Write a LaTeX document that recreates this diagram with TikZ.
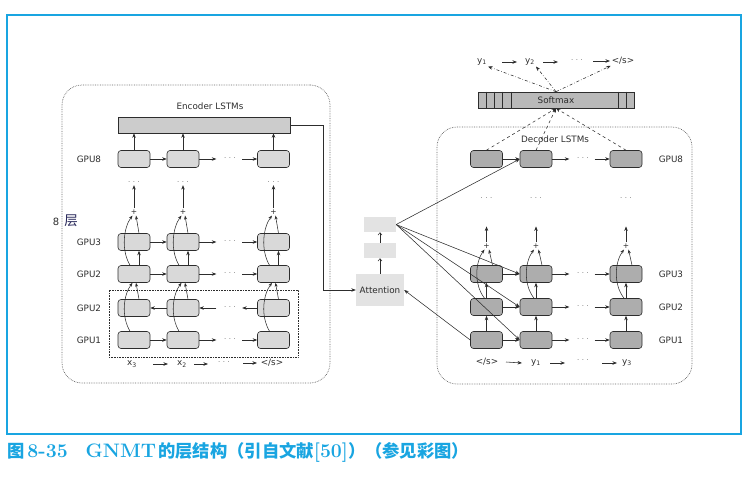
\documentclass[tikz,border=0pt]{standalone}
\usepackage{fontspec}
\newfontfamily\dvs{DejaVu Sans}
\newfontfamily\cjk{Noto Sans CJK SC}
\usetikzlibrary{arrows.meta,calc}
\definecolor{capblue}{RGB}{25,165,225}
\definecolor{ink}{RGB}{45,45,45}
\newcommand{\lmb}[1]{{\normalfont\bfseries\fontsize{19.5}{20}\selectfont #1}}
\begin{document}
\begin{tikzpicture}[x=1pt,y=-1pt,
  encbox/.style={draw=ink, line width=0.6pt, fill=gray!30, rounded corners=3pt, minimum width=32pt, minimum height=17pt, inner sep=0pt},
  decbox/.style={encbox, fill=gray!64},
  lbl/.style={font=\dvs\fontsize{8.8}{10}\selectfont, text=ink, inner sep=1pt},
  dts/.style={font=\dvs\fontsize{7}{8}\selectfont, text=gray!85!black, inner sep=0.5pt},
  pls/.style={font=\dvs\fontsize{7.5}{8}\selectfont, text=ink, inner sep=1pt},
  arr/.style={draw=ink, line width=0.55pt, -{Stealth[length=4.5pt,width=3.5pt]}},
  cur/.style={draw=ink, line width=0.55pt, -{Stealth[length=4pt,width=3pt]}},
  sarr/.style={draw=ink, line width=0.5pt, -{Straight Barb[length=2.5pt,width=4pt]}},
  frame/.style={draw=gray!80!black, line width=0.7pt, densely dotted, rounded corners=20pt, inner sep=0pt},
  graybox/.style={fill=gray!22, inner sep=0pt}]
\useasboundingbox (0,0) rectangle (752,477);
\node[draw=capblue, line width=1.3pt, minimum width=734pt, minimum height=419pt, inner sep=0pt] (border) at (374,224.5) {};

% caption
\node[anchor=west, text=capblue, inner sep=0pt] (caption) at (7,452)
 {\cjk\bfseries\fontsize{17.3}{18}\selectfont 图\hspace{3pt}\lmb{8-35}\hspace{18pt}\lmb{GNMT}\hspace{2pt}的层结构（引自文献\lmb{[50]}）（参见彩图）};

% ---------------- encoder ----------------
\node[frame, minimum width=268pt, minimum height=298pt] (encfr) at (196,234) {};
\node[draw=ink, line width=0.6pt, densely dotted, minimum width=189pt, minimum height=67pt, inner sep=0pt] (inner) at (203.5,323.5) {};
\node[lbl] (enclbl) at (210,106) {Encoder LSTMs};
\node[draw=ink, line width=0.6pt, fill=gray!40, minimum width=172pt, minimum height=16pt, inner sep=0pt] (ebar) at (204,125) {};

\node[lbl] (g8) at (89,159) {GPU8};
\node[lbl] (g3) at (89,242) {GPU3};
\node[lbl] (g2u) at (89,274) {GPU2};
\node[lbl] (g2b) at (89,308) {GPU2};
\node[lbl] (g1) at (89,340) {GPU1};
\node[inner sep=0pt, text=ink] (eight) at (56,222) {\dvs\fontsize{10}{11}\selectfont 8};
\node[inner sep=0pt, text=ink!80!blue] (ceng) at (71,221) {\cjk\fontsize{13.5}{14}\selectfont 层};

\foreach \c/\x in {1/134,2/183,3/273.5} {
  \node[encbox] (e8\c) at (\x,159) {};
  \node[encbox] (e3\c) at (\x,242) {};
  \node[encbox] (eu\c) at (\x,274) {};
  \node[encbox] (eb\c) at (\x,308) {};
  \node[encbox] (e1\c) at (\x,340) {};
  \node[dts] (ed\c) at (\x,183) {·\hspace{2.5pt}·\hspace{2.5pt}·};
  \node[pls] (ep\c) at (\x,212) {+};
  \draw[arr] (e8\c.north) -- (e8\c.north |- ebar.south);
  \draw[arr] (ep\c.north) -- (ed\c.south);
  \draw[arr] ($(eu\c.north)+(5,0)$) -- ($(e3\c.south)+(5,0)$);
  \draw[cur] ($(e3\c.north)+(5,0)$) -- ($(ep\c.south)+(2,0)$);
  \draw[cur] ($(eb\c.north)+(5,0)$) -- ($(eu\c.south)+(2,0)$);
  \draw[cur] ($(eu\c.north)+(-4,0)$) .. controls +(-9,-15) and +(-9,12) .. ($(ep\c.south)+(-1.5,0)$);
  \draw[cur] ($(e1\c.north)+(-4,0)$) .. controls +(-9,-15) and +(-9,12) .. ($(eu\c.south)+(-1.5,0)$);
}
\foreach \r/\y in {8/159,3/242,u/274,1/340} {
  \draw[arr] (e\r1.east) -- (e\r2.west);
  \draw[arr] (e\r2.east) -- ++(17,0);
  \node[dts] (eh\r) at (230,\y) {·\hspace{2.5pt}·\hspace{2.5pt}·};
  \draw[arr] ($(e\r3.west)+(-15,0)$) -- (e\r3.west);
}
\draw[arr] (eb2.west) -- (eb1.east);
\draw[arr] ($(eb2.east)+(17,0)$) -- (eb2.east);
\node[dts] (ehb) at (230,308) {·\hspace{2.5pt}·\hspace{2.5pt}·};
\draw[arr] (eb3.west) -- ++(-15,0);

\node[lbl] (ex1) at (132,364) {x\textsubscript{3}};
\node[lbl] (ex2) at (182,364) {x\textsubscript{2}};
\node[dts] (exd) at (224,363) {·\hspace{2.5pt}·\hspace{2.5pt}·};
\node[lbl] (ex3) at (272,363) {\textless/s\textgreater};
\draw[arr] ([xshift=21pt]ex1.center) -- ([xshift=-14pt]ex2.center);
\draw[arr] ([xshift=12pt]ex2.center) -- ([xshift=26pt]ex2.center);
\draw[arr] ([xshift=-29pt]ex3.center) -- ([xshift=-15pt]ex3.center);

% ---------------- attention ----------------
\node[graybox, minimum width=48pt, minimum height=32pt] (att) at (380,290) {\dvs\fontsize{8.8}{10}\selectfont\color{ink}Attention};
\node[graybox, minimum width=32pt, minimum height=15pt] (b1) at (380,250.5) {};
\node[graybox, minimum width=32pt, minimum height=15pt] (b2) at (380,224.5) {};
\draw[sarr] (att.north) -- (b1.south);
\draw[sarr] (b1.north) -- (b2.south);
\draw[arr] (ebar.east) -- ++(33,0) |- (att.west);

% ---------------- decoder ----------------
\node[frame, minimum width=255pt, minimum height=257pt] (decfr) at (564.5,255.5) {};
\node[lbl] (declbl) at (555,139) {Decoder LSTMs};
\node[lbl] (dg8) at (671,159) {GPU8};
\node[lbl] (dg3) at (671,274) {GPU3};
\node[lbl] (dg2) at (671,307) {GPU2};
\node[lbl] (dg1) at (671,340) {GPU1};

\foreach \c/\x in {1/486.5,2/536,3/626} {
  \node[decbox] (d8\c) at (\x,159) {};
  \node[decbox] (d3\c) at (\x,274) {};
  \node[decbox] (d2\c) at (\x,307) {};
  \node[decbox] (d1\c) at (\x,340) {};
  \node[dts] (dd\c) at (\x,199) {·\hspace{2.5pt}·\hspace{2.5pt}·};
  \node[pls] (dp\c) at (\x,246) {+};
  \draw[arr] (d1\c.north) -- (d2\c.south);
  \draw[arr] (d2\c.north) -- (d3\c.south);
  \draw[cur] ($(d3\c.north)+(6,0)$) -- ($(dp\c.south)+(2.5,0)$);
  \draw[cur] ($(d2\c.north)+(-2,0)$) .. controls +(-11,-14) and +(-9,12) .. ($(dp\c.south)+(-2,0)$);
  \draw[arr] (dp\c.north) -- ++(0,-16);
}
\foreach \r/\y in {8/159,3/274,2/307,1/340} {
  \draw[arr] (d\r1.east) -- (d\r2.west);
  \draw[arr] (d\r2.east) -- ++(17,0);
  \node[dts] (dh\r) at (583,\y) {·\hspace{2.5pt}·\hspace{2.5pt}·};
  \draw[arr] ($(d\r3.west)+(-15,0)$) -- (d\r3.west);
}
\node[lbl] (di1) at (487,362) {\textless/s\textgreater};
\node[lbl] (di2) at (536,363) {y\textsubscript{1}};
\node[dts] (did) at (583,361) {·\hspace{2.5pt}·\hspace{2.5pt}·};
\node[lbl] (di3) at (627,363) {y\textsubscript{3}};
\draw[arr] ([xshift=19pt]di1.center) -- ([xshift=-14pt]di2.center);
\draw[arr] ([xshift=14pt]di2.center) -- ([xshift=29pt]di2.center);
\draw[arr] ([xshift=-25pt]di3.center) -- ([xshift=-10pt]di3.center);

% attention links
\draw[arr] (b2.east) -- (d82.west);
\draw[arr] (b2.east) -- (d32.west);
\draw[arr] (b2.east) -- (d22.west);
\draw[arr] (b2.east) -- (d12.west);
\draw[arr] (d11.west) -- (att.east);

% softmax
\node[draw=ink, line width=0.6pt, fill=gray!55, minimum width=156pt, minimum height=16pt, inner sep=0pt] (sm) at (556,100) {\dvs\fontsize{8.8}{10}\selectfont\color{ink}Softmax};
\foreach \o in {9,17,25,34} {
  \draw[ink, line width=0.6pt] ($(sm.north west)+(\o,0)$) -- ($(sm.south west)+(\o,0)$);
}
\foreach \o in {-8,-16} {
  \draw[ink, line width=0.6pt] ($(sm.north east)+(\o,0)$) -- ($(sm.south east)+(\o,0)$);
}
\node[lbl] (ty1) at (482,62) {y\textsubscript{1}};
\node[lbl] (ty2) at (530,62) {y\textsubscript{2}};
\node[dts] (tyd) at (577,61) {·\hspace{2.5pt}·\hspace{2.5pt}·};
\node[lbl] (tys) at (623,61) {\textless/s\textgreater};
\draw[arr] ([xshift=20pt]ty1.center) -- ([xshift=-13pt]ty2.center);
\draw[arr] ([xshift=13pt]ty2.center) -- ([xshift=28pt]ty2.center);
\draw[arr] ([xshift=-30pt]tys.center) -- ([xshift=-13pt]tys.center);
\draw[arr, dash dot] (sm.north) -- (ty1.south east);
\draw[arr, dash dot] (sm.north) -- (ty2.south east);
\draw[arr, dash dot] (sm.north) -- (tys.south west);
\foreach \c in {1,2,3} {
  \draw[arr, dashed] (d8\c.north) -- (sm.south);
}
\end{tikzpicture}
\end{document}
